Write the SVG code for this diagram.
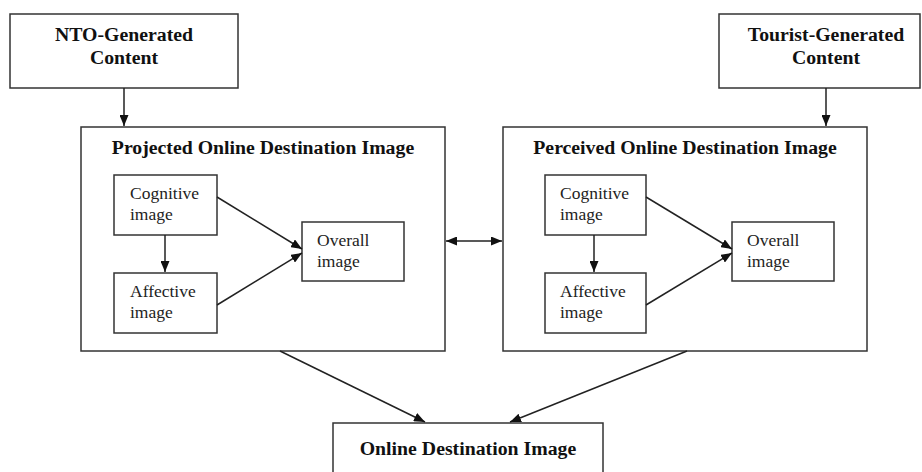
<svg xmlns="http://www.w3.org/2000/svg" width="922" height="472" viewBox="0 0 922 472">
<defs>
<marker id="ah" viewBox="0 0 11 9" refX="11" refY="4.5" markerWidth="11" markerHeight="9" markerUnits="userSpaceOnUse" orient="auto-start-reverse">
<path d="M0,0 L11,4.5 L0,9 Z" fill="#111"/>
</marker>
</defs>
<style>
.box{fill:#fff;stroke:#333;stroke-width:1.5}
.b{font-family:"Liberation Serif","Times New Roman",serif;font-weight:bold;font-size:19.8px;fill:#111;text-anchor:middle}
.r{font-family:"Liberation Serif","Times New Roman",serif;font-size:17.5px;fill:#222}
.c{fill:none;stroke:#222;stroke-width:1.5}
</style>
<rect width="922" height="472" fill="#fff"/>
<g id="nto">
<rect class="box" x="10" y="14" width="228" height="74"/>
<text class="b" x="124" y="41">NTO-Generated</text>
<text class="b" x="124" y="64">Content</text>
</g>
<g id="tourist">
<rect class="box" x="719" y="14" width="201" height="74"/>
<text class="b" x="826" y="41">Tourist-Generated</text>
<text class="b" x="826" y="64">Content</text>
</g>
<g id="projected">
<rect class="box" x="81" y="127" width="364" height="224"/>
<text class="b" x="263" y="154">Projected Online Destination Image</text>
</g>
<g id="p-cognitive">
<rect class="box" x="114" y="175" width="103" height="60"/>
<text class="r" x="130" y="199">Cognitive</text>
<text class="r" x="130" y="220">image</text>
</g>
<g id="p-affective">
<rect class="box" x="114" y="273" width="103" height="60"/>
<text class="r" x="130" y="297">Affective</text>
<text class="r" x="130" y="318">image</text>
</g>
<g id="p-overall">
<rect class="box" x="302" y="222" width="102" height="59"/>
<text class="r" x="317" y="246">Overall</text>
<text class="r" x="317" y="267">image</text>
</g>
<g id="perceived">
<rect class="box" x="503" y="127" width="364" height="224"/>
<text class="b" x="685" y="154">Perceived Online Destination Image</text>
</g>
<g id="q-cognitive">
<rect class="box" x="545" y="175" width="101" height="60"/>
<text class="r" x="560" y="199">Cognitive</text>
<text class="r" x="560" y="220">image</text>
</g>
<g id="q-affective">
<rect class="box" x="545" y="273" width="101" height="60"/>
<text class="r" x="560" y="297">Affective</text>
<text class="r" x="560" y="318">image</text>
</g>
<g id="q-overall">
<rect class="box" x="732" y="222" width="102" height="59"/>
<text class="r" x="747" y="246">Overall</text>
<text class="r" x="747" y="267">image</text>
</g>
<g id="online">
<rect class="box" x="333" y="423" width="270" height="60"/>
<text class="b" x="468" y="455">Online Destination Image</text>
</g>
<g id="connectors">
<line class="c" x1="124" y1="88" x2="124" y2="126" marker-end="url(#ah)"/>
<line class="c" x1="826" y1="88" x2="826" y2="126" marker-end="url(#ah)"/>
<line class="c" x1="165" y1="235" x2="165" y2="272" marker-end="url(#ah)"/>
<line class="c" x1="217" y1="197" x2="302" y2="249" marker-end="url(#ah)"/>
<line class="c" x1="217" y1="305" x2="302" y2="253" marker-end="url(#ah)"/>
<line class="c" x1="594" y1="235" x2="594" y2="272" marker-end="url(#ah)"/>
<line class="c" x1="646" y1="197" x2="732" y2="249" marker-end="url(#ah)"/>
<line class="c" x1="646" y1="305" x2="732" y2="253" marker-end="url(#ah)"/>
<line class="c" x1="446" y1="241" x2="502" y2="241" marker-start="url(#ah)" marker-end="url(#ah)"/>
<line class="c" x1="280" y1="351" x2="425" y2="422" marker-end="url(#ah)"/>
<line class="c" x1="687" y1="351" x2="510" y2="422" marker-end="url(#ah)"/>
</g>
</svg>
